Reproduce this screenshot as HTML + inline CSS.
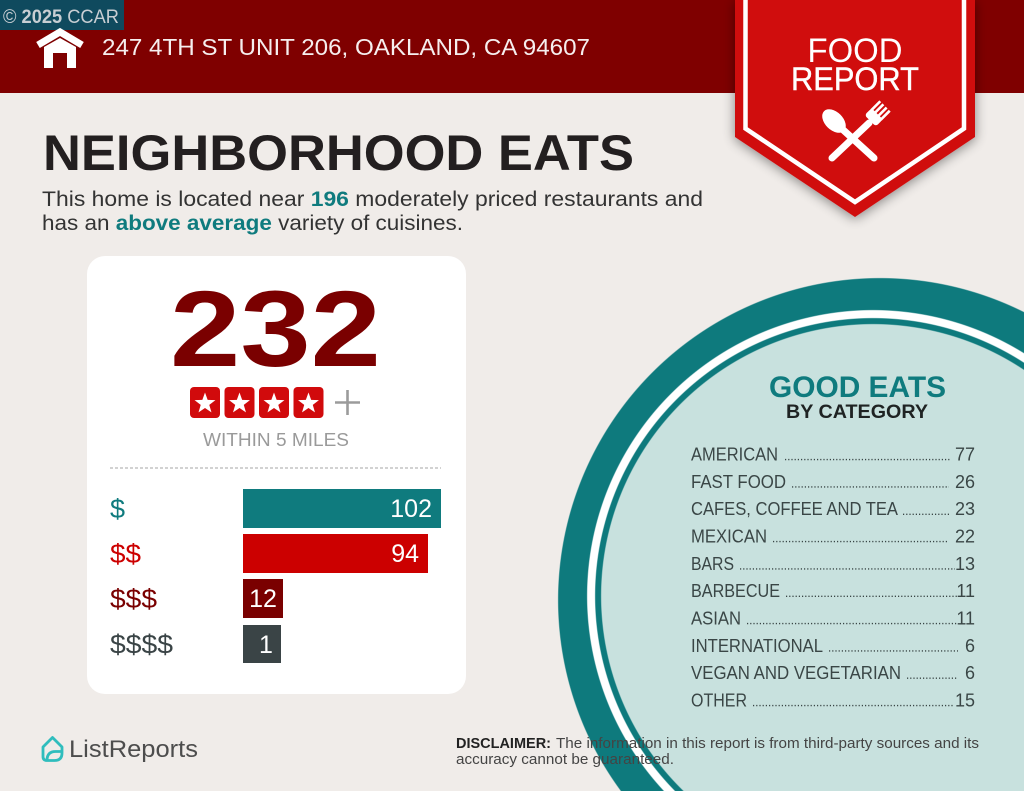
<!DOCTYPE html>
<html>
<head>
<meta charset="utf-8">
<style>
  html,body{margin:0;padding:0;background:#f0ece9;width:1024px;height:791px;overflow:hidden;}
  #bg{position:absolute;left:0;top:0;width:1024px;height:791px;
    background:
      radial-gradient(circle 272px at 873px 596px, #c8e1de 271.4px, rgba(200,225,222,0) 272.4px),
      radial-gradient(circle 278px at 873px 596px, #0e7a7d 277.4px, rgba(14,122,125,0) 278.4px),
      radial-gradient(circle 286px at 873px 596px, #ffffff 285.4px, rgba(255,255,255,0) 286.4px),
      radial-gradient(circle 322px at 880px 600px, #0e7a7d 321.4px, rgba(14,122,125,0) 322.4px),
      #f0ece9;}
  svg{position:absolute;left:0;top:0;display:block;overflow:hidden;}
  text{font-family:"Liberation Sans",Arial,sans-serif;}
</style>
</head>
<body>
<div id="bg"></div>
<svg width="1024" height="791" viewBox="0 0 1024 791" xmlns="http://www.w3.org/2000/svg">
  <defs>
    <filter id="sh" x="-20%" y="-20%" width="140%" height="140%">
      <feGaussianBlur in="SourceAlpha" stdDeviation="6"/>
      <feOffset dx="0" dy="2" result="b"/>
      <feComponentTransfer><feFuncA type="linear" slope="0.45"/></feComponentTransfer>
      <feMerge><feMergeNode/><feMergeNode in="SourceGraphic"/></feMerge>
    </filter>
  </defs>

  <!-- header -->
  <rect x="0" y="0" width="1024" height="93" fill="#7f0000"/>
  <rect x="0" y="0" width="124" height="30" fill="#0f4a5e"/>
  <text x="3" y="23" font-size="19" fill="#c8ced3" textLength="116" lengthAdjust="spacingAndGlyphs">© <tspan font-weight="bold">2025</tspan> CCAR</text>

  <!-- house icon -->
  <polyline points="38,45 60,32 82,45" fill="none" stroke="#ffffff" stroke-width="7" stroke-linejoin="miter"/>
  <path d="M44,47 L60,38 L76,47 L76,68 L67,68 L67,53 L53,53 L53,68 L44,68 Z" fill="#ffffff"/>

  <text x="102" y="55" font-size="23" fill="#f6eeee" textLength="488" lengthAdjust="spacingAndGlyphs">247 4TH ST UNIT 206, OAKLAND, CA 94607</text>

  <!-- ribbon -->
  <g filter="url(#sh)">
    <polygon points="735,0 975,0 975,137 855,217 735,137" fill="#d00a0c"/>
  </g>
  <polyline points="745.5,0 745.5,128.5 855,202 964,128.5 964,0" fill="none" stroke="#ffffff" stroke-width="4.5" stroke-linejoin="miter"/>
  <text x="855" y="62" font-size="34" fill="#ffffff" text-anchor="middle" textLength="95" lengthAdjust="spacingAndGlyphs">FOOD</text>
  <text x="855" y="90" font-size="32" fill="#ffffff" stroke="#ffffff" stroke-width="0.4" text-anchor="middle" textLength="128" lengthAdjust="spacingAndGlyphs">REPORT</text>

  <!-- spoon & fork -->
  <g fill="#ffffff" stroke="none">
    <ellipse cx="834" cy="121" rx="9" ry="14" transform="rotate(-45 834 121)"/>
    <line x1="840" y1="127" x2="874" y2="158" stroke="#ffffff" stroke-width="7" stroke-linecap="round"/>
    <line x1="869" y1="123" x2="832" y2="158" stroke="#ffffff" stroke-width="7" stroke-linecap="round"/>
    <g transform="translate(873,118) rotate(45)">
      <rect x="-8" y="-6" width="16" height="10" rx="3"/>
      <rect x="-8" y="-17" width="2.6" height="13"/>
      <rect x="-3.6" y="-17" width="2.6" height="13"/>
      <rect x="1" y="-17" width="2.6" height="13"/>
      <rect x="5.4" y="-17" width="2.6" height="13"/>
    </g>
  </g>

  <!-- title -->
  <text x="43" y="170" font-size="50" font-weight="bold" fill="#231f20" textLength="591" lengthAdjust="spacingAndGlyphs">NEIGHBORHOOD EATS</text>
  <text x="42" y="206" font-size="21" fill="#333333" textLength="661" lengthAdjust="spacingAndGlyphs">This home is located near <tspan font-weight="bold" fill="#0f7b7e">196</tspan> moderately priced restaurants and</text>
  <text x="42" y="230" font-size="21" fill="#333333" textLength="421" lengthAdjust="spacingAndGlyphs">has an <tspan font-weight="bold" fill="#0f7b7e">above average</tspan> variety of cuisines.</text>

  <!-- card -->
  <rect x="87" y="256" width="379" height="438" rx="18" fill="#ffffff"/>
  <text x="170" y="366" font-size="108" font-weight="bold" fill="#7a0000" textLength="211" lengthAdjust="spacingAndGlyphs">232</text>

  <!-- stars -->
  <g>
    <rect x="190" y="387" width="30" height="31" rx="4" fill="#d10a0c"/>
    <rect x="224.5" y="387" width="30" height="31" rx="4" fill="#d10a0c"/>
    <rect x="259" y="387" width="30" height="31" rx="4" fill="#d10a0c"/>
    <rect x="293.5" y="387" width="30" height="31" rx="4" fill="#d10a0c"/>
    <polygon transform="translate(205,403.5)" fill="#ffffff" points="0,-11 2.65,-3.64 10.46,-3.4 4.28,1.39 6.47,8.9 0,4.5 -6.47,8.9 -4.28,1.39 -10.46,-3.4 -2.65,-3.64"/>
    <polygon transform="translate(239.5,403.5)" fill="#ffffff" points="0,-11 2.65,-3.64 10.46,-3.4 4.28,1.39 6.47,8.9 0,4.5 -6.47,8.9 -4.28,1.39 -10.46,-3.4 -2.65,-3.64"/>
    <polygon transform="translate(274,403.5)" fill="#ffffff" points="0,-11 2.65,-3.64 10.46,-3.4 4.28,1.39 6.47,8.9 0,4.5 -6.47,8.9 -4.28,1.39 -10.46,-3.4 -2.65,-3.64"/>
    <polygon transform="translate(308.5,403.5)" fill="#ffffff" points="0,-11 2.65,-3.64 10.46,-3.4 4.28,1.39 6.47,8.9 0,4.5 -6.47,8.9 -4.28,1.39 -10.46,-3.4 -2.65,-3.64"/>
    <line x1="335" y1="402.5" x2="360" y2="402.5" stroke="#9b9b9b" stroke-width="2.6"/>
    <line x1="347.5" y1="390" x2="347.5" y2="415" stroke="#9b9b9b" stroke-width="2.6"/>
  </g>
  <text x="203" y="446" font-size="18" fill="#9a9a9a" textLength="146" lengthAdjust="spacingAndGlyphs">WITHIN 5 MILES</text>

  <line x1="110" y1="468" x2="441" y2="468" stroke="#b8b8b8" stroke-width="1.2" stroke-dasharray="3 2"/>

  <!-- bars -->
  <rect x="243" y="489" width="198" height="39" fill="#0f7b7e"/>
  <rect x="243" y="534" width="185" height="39" fill="#cc0000"/>
  <rect x="243" y="579" width="40" height="39" fill="#7a0000"/>
  <rect x="243" y="625" width="38" height="38" fill="#3a4446"/>

  <text x="432" y="517" font-size="25" fill="#ffffff" text-anchor="end">102</text>
  <text x="419" y="562" font-size="25" fill="#ffffff" text-anchor="end">94</text>
  <text x="263" y="607" font-size="25" fill="#ffffff" text-anchor="middle">12</text>
  <text x="266" y="653" font-size="25" fill="#ffffff" text-anchor="middle">1</text>

  <text x="110" y="518" font-size="27" fill="#0f7b7e">$</text>
  <text x="110" y="563" font-size="27" fill="#cc0000" textLength="31" lengthAdjust="spacingAndGlyphs">$$</text>
  <text x="110" y="608" font-size="27" fill="#7a0000" textLength="47" lengthAdjust="spacingAndGlyphs">$$$</text>
  <text x="110" y="653.5" font-size="27" fill="#3a4446" textLength="63" lengthAdjust="spacingAndGlyphs">$$$$</text>

  <!-- good eats -->
  <text x="857.5" y="397" font-size="30" font-weight="bold" fill="#0f7b7e" text-anchor="middle" textLength="177" lengthAdjust="spacingAndGlyphs">GOOD EATS</text>
  <text x="857" y="418" font-size="19" font-weight="bold" fill="#1f2323" text-anchor="middle" textLength="142" lengthAdjust="spacingAndGlyphs">BY CATEGORY</text>

  <g font-size="18" fill="#3a4646">
    <text x="691" y="460.5" textLength="87" lengthAdjust="spacingAndGlyphs">AMERICAN</text>
    <text x="975" y="460.5" text-anchor="end">77</text>
    <text x="691" y="487.8" textLength="95" lengthAdjust="spacingAndGlyphs">FAST FOOD</text>
    <text x="975" y="487.8" text-anchor="end">26</text>
    <text x="691" y="515.2" textLength="207" lengthAdjust="spacingAndGlyphs">CAFES, COFFEE AND TEA</text>
    <text x="975" y="515.2" text-anchor="end">23</text>
    <text x="691" y="542.5" textLength="76" lengthAdjust="spacingAndGlyphs">MEXICAN</text>
    <text x="975" y="542.5" text-anchor="end">22</text>
    <text x="691" y="569.8" textLength="43" lengthAdjust="spacingAndGlyphs">BARS</text>
    <text x="975" y="569.8" text-anchor="end">13</text>
    <text x="691" y="597.2" textLength="89" lengthAdjust="spacingAndGlyphs">BARBECUE</text>
    <text x="975" y="597.2" text-anchor="end">11</text>
    <text x="691" y="624.5" textLength="50" lengthAdjust="spacingAndGlyphs">ASIAN</text>
    <text x="975" y="624.5" text-anchor="end">11</text>
    <text x="691" y="651.8" textLength="132" lengthAdjust="spacingAndGlyphs">INTERNATIONAL</text>
    <text x="975" y="651.8" text-anchor="end">6</text>
    <text x="691" y="679.1" textLength="210" lengthAdjust="spacingAndGlyphs">VEGAN AND VEGETARIAN</text>
    <text x="975" y="679.1" text-anchor="end">6</text>
    <text x="691" y="706.5" textLength="56" lengthAdjust="spacingAndGlyphs">OTHER</text>
    <text x="975" y="706.5" text-anchor="end">15</text>
  </g>
  <g stroke="#3a4646" stroke-width="1.4" stroke-dasharray="1.2 2">
    <line x1="785" y1="459.6" x2="951" y2="459.6"/>
    <line x1="792" y1="486.9" x2="949" y2="486.9"/>
    <line x1="903" y1="514.3" x2="949" y2="514.3"/>
    <line x1="773" y1="541.6" x2="949" y2="541.6"/>
    <line x1="740" y1="568.9" x2="955" y2="568.9"/>
    <line x1="786" y1="596.3" x2="958" y2="596.3"/>
    <line x1="747" y1="623.6" x2="958" y2="623.6"/>
    <line x1="829" y1="650.9" x2="958" y2="650.9"/>
    <line x1="907" y1="678.2" x2="958" y2="678.2"/>
    <line x1="753" y1="705.6" x2="953" y2="705.6"/>
  </g>

  <!-- disclaimer -->
  <text x="456" y="748" font-size="14.5" font-weight="bold" fill="#222222" textLength="95" lengthAdjust="spacingAndGlyphs">DISCLAIMER:</text>
  <text x="556" y="748" font-size="14.5" fill="#444444" textLength="423" lengthAdjust="spacingAndGlyphs">The information in this report is from third-party sources and its</text>
  <text x="456" y="764" font-size="14.5" fill="#444444" textLength="218" lengthAdjust="spacingAndGlyphs">accuracy cannot be guaranteed.</text>

  <!-- ListReports logo -->
  <path d="M43,747 L52.5,737.5 L62,747 L62,753 Q62,760.5 54.5,760.5 L47,760.5 Q43,760.5 43,756.5 Z" fill="none" stroke="#2fbdbd" stroke-width="2.8" stroke-linejoin="round"/>
  <path d="M47,760.5 Q47,751.5 55.5,751.5 L62,751.5" fill="none" stroke="#2fbdbd" stroke-width="2.8" stroke-linejoin="round"/>
  <text x="69" y="757" font-size="24" fill="#4d4d4d" textLength="129" lengthAdjust="spacingAndGlyphs">ListReports</text>
</svg>
</body>
</html>
